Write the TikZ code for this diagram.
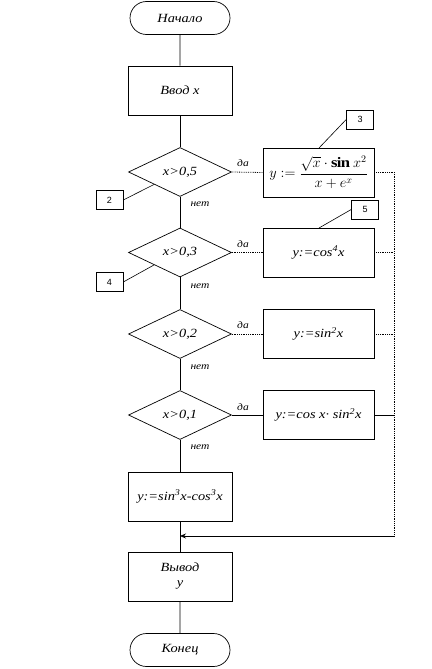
\documentclass[tikz,border=0pt]{standalone}
\usepackage{fontspec}
\setmainfont{Liberation Serif}[FakeStretch=1.15]
\newfontfamily\calloutfont{Liberation Sans}
\usetikzlibrary{shapes.geometric,shapes.misc,arrows.meta,calc}
\begin{document}
\begin{tikzpicture}[x=1pt,y=-1pt,
  base/.style={draw, line width=0.7pt, font=\itshape\fontsize{12.5}{15}\selectfont, inner sep=1pt},
  term/.style={base, rounded rectangle, minimum width=102pt, minimum height=33pt},
  proc/.style={base, rectangle, minimum width=104pt, minimum height=49pt, align=center},
  dec/.style={base, diamond, minimum width=103pt, minimum height=49pt, inner sep=0pt},
  act/.style={base, rectangle, minimum width=111pt, minimum height=49pt},
  callout/.style={draw, line width=0.6pt, minimum width=27pt, minimum height=19pt, inner sep=0pt, font=\calloutfont\fontsize{9}{10}\selectfont},
  lbl/.style={font=\itshape\fontsize{10}{12}\selectfont, inner sep=0pt},
  flow/.style={line width=0.8pt},
  dots/.style={line width=0.8pt, densely dotted},
  thin/.style={line width=0.6pt}]
\useasboundingbox (0,0) rectangle (431,669);

% main column
\node[term] (start) at (180,18) {Начало};
\node[proc] (input) at (180,90.5) {Ввод x};
\node[dec] (d1) at (180,172) {x>0,5};
\node[dec] (d2) at (180,252.5) {x>0,3};
\node[dec] (d3) at (180,334) {x>0,2};
\node[dec] (d4) at (180,415) {x>0,1};
\node[proc] (p5) at (180,496.5) {y:=sin\textsuperscript{3}x-cos\textsuperscript{3}x};
\node[proc] (out) at (180,576.5) {Вывод\\y};
\node[term] (stop) at (180,650) {Конец};

% right actions
\node[act, font=\fontsize{14.5}{16}\selectfont] (b1) at (318.5,172.5) {$y := \displaystyle\frac{\sqrt{x}\cdot \mathbf{sin}\ x^{2}}{x + e^{x}}$};
\node[act] (b2) at (318.5,252.5) {y:=cos\textsuperscript{4}x};
\node[act] (b3) at (318.5,334) {y:=sin\textsuperscript{2}x};
\node[act] (b4) at (318.5,415) {y:=cos x· sin\textsuperscript{2}x};

% callouts
\node[callout] (c3) at (360,119.5) {3};
\node[callout] (c5) at (365,209.5) {5};
\node[callout] (c2) at (109.5,200) {2};
\node[callout] (c4) at (109.5,282) {4};
\coordinate (c3t) at (319,148);
\coordinate (c5t) at (319,228);
\draw[thin] (c3.west) -- (c3t);
\draw[thin] (c5.west) -- (c5t);
\draw[thin] (c2.east) -- ($(d1.west)!0.5!(d1.south)$);
\draw[thin] (c4.east) -- ($(d2.west)!0.5!(d2.south)$);

% main flow
\draw[flow] (start) -- (input);
\draw[flow] (input) -- (d1);
\draw[flow] (d1) -- (d2);
\draw[flow] (d2) -- (d3);
\draw[flow] (d3) -- (d4);
\draw[flow] (d4) -- (p5);
\draw[flow] (p5) -- (out);
\draw[flow] (out) -- (stop);

% yes branches
\coordinate (r1) at (394,172);
\coordinate (r2) at (394,252.5);
\coordinate (r3) at (394,334);
\coordinate (r4) at (394,415);
\coordinate (rb) at (394,536);
\coordinate (j) at (180,536);
\draw[dots] (d1.east) -- (b1.west);
\draw[dots] (d2.east) -- (b2.west);
\draw[dots] (d3.east) -- (b3.west);
\draw[flow] (d4.east) -- (b4.west);
\draw[dots] (b1.east |- r1) -- (r1);
\draw[dots] (b2.east) -- (r2);
\draw[dots] (b3.east) -- (r3);
\draw[flow] (b4.east) -- (r4);
\draw[dots] (r1) -- (rb);
\draw[flow,-{Stealth[length=6pt,width=5pt]}] (rb) -- (j);

% labels
\node[lbl] (y1) at (243,163) {да};
\node[lbl] (y2) at (243,244) {да};
\node[lbl] (y3) at (243,325) {да};
\node[lbl] (y4) at (243,407) {да};
\node[lbl] (n1) at (200,204) {нет};
\node[lbl] (n2) at (200,286) {нет};
\node[lbl] (n3) at (200,367) {нет};
\node[lbl] (n4) at (200,447) {нет};
\end{tikzpicture}
\end{document}
